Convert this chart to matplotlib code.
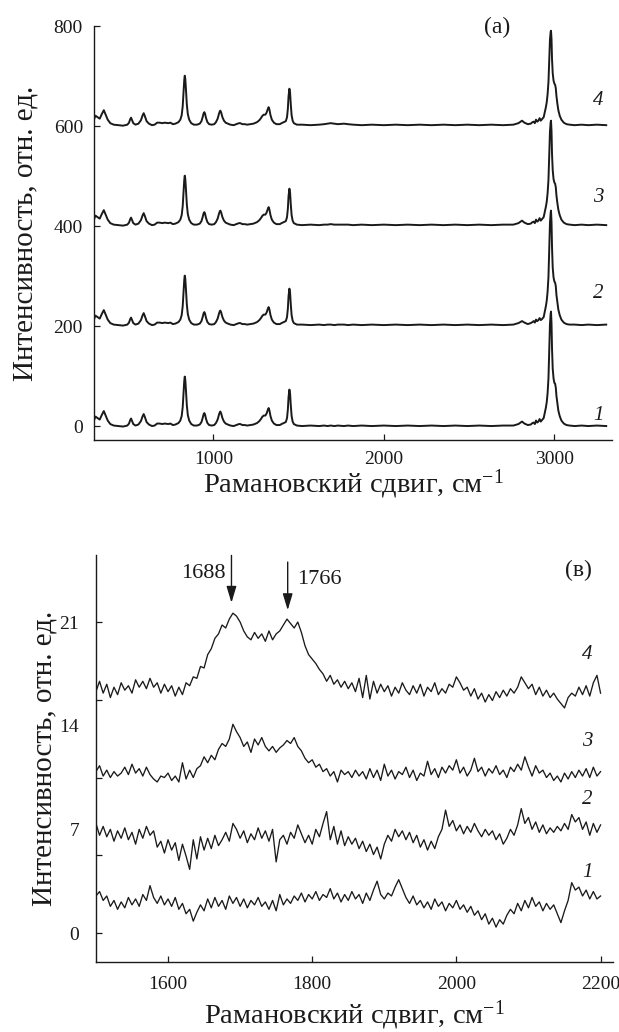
import numpy as np
import matplotlib.pyplot as plt

plt.rcParams['font.family'] = ['Liberation Serif', 'DejaVu Serif']
plt.rcParams['mathtext.fontset'] = 'custom'
plt.rcParams['mathtext.rm'] = 'Liberation Serif'
plt.rcParams['mathtext.it'] = 'Liberation Serif:italic'

INK = '#1a1a1a'

# --- (а) full spectra, 300-3300 cm-1 ---
# fingerprint region, same for all four samples
fp_shift = [300, 308, 320, 333, 345, 357, 368, 380, 395, 415,
            440, 470, 495, 505, 512, 517, 523, 530, 543, 560,
            575, 584, 591, 598, 608, 622, 640, 655, 670, 685,
            700, 715, 735, 748, 762, 777, 795, 806, 814, 820,
            825, 829, 832, 835, 839, 844, 850, 858, 870, 885,
            904, 920, 930, 937, 943, 947, 951, 957, 965, 975,
            990, 1005, 1015, 1025, 1033, 1038, 1041, 1046, 1053, 1062,
            1072, 1085, 1100, 1119, 1135, 1150, 1158, 1170, 1185, 1198,
            1215, 1235, 1256, 1270, 1281, 1286, 1295, 1305, 1312, 1318,
            1324, 1329, 1335, 1343, 1355, 1370, 1390, 1400, 1412, 1425,
            1432, 1437, 1441, 1446, 1450, 1454, 1459, 1465, 1472, 1490]
fp_int = [12, 19, 16, 13, 22, 30, 21, 11, 4, 1,
          0, -1, 1, 5, 12, 15, 10, 4, 1, 3,
          10, 19, 24, 18, 8, 3, 0, 1, 5, 5,
          4, 5, 4, 5, 2, 3, 6, 11, 20, 38,
          65, 90, 99, 93, 72, 42, 22, 11, 4, 1,
          1, 3, 8, 16, 24, 26, 23, 14, 6, 2,
          1, 2, 6, 13, 23, 28, 29, 25, 16, 9,
          5, 3, 1, 0, 2, 4, 4, 2, 2, 1,
          2, 3, 6, 10, 15, 18, 21, 21, 25, 31,
          36, 31, 20, 11, 5, 2, 2, 4, 6, 8,
          16, 33, 58, 73, 65, 42, 20, 9, 4, 1]

# C=O and C-H regions, per sample
hi_shift = [1520, 1570, 1620, 1650, 1670, 1688, 1710, 1730, 1766, 1790,
            1820, 1870, 1930, 2000, 2070, 2140, 2210, 2280, 2350, 2420,
            2490, 2560, 2630, 2700, 2760, 2790, 2811, 2825, 2845, 2862,
            2872, 2879, 2886, 2893, 2900, 2907, 2914, 2921, 2928, 2938,
            2945, 2951, 2956, 2961, 2966, 2971, 2975, 2979, 2981, 2984,
            2987, 2991, 2996, 3001, 3005, 3009, 3013, 3018, 3024, 3032,
            3042, 3056, 3072, 3090, 3120, 3160, 3200, 3250, 3305]
hi_int_1 = [0, 1, 0, 1, 0, 1, 0, 1, 0, 1,
            0, 1, 0, 1, 0, 1, 0, 1, 0, 1,
            0, 1, 0, 1, 1, 4, 9, 5, 2, 3,
            6, 7, 4, 11, 7, 9, 14, 9, 12, 16,
            27, 37, 48, 66, 95, 155, 205, 225, 229, 205,
            155, 115, 95, 86, 85, 77, 60, 46, 31, 20,
            11, 5, 2, 1, 0, 1, 0, 1, 0]
hi_int_2 = [1, 0, 1, 0, 1, 1, 0, 1, 1, 0,
            1, 0, 1, 0, 1, 0, 1, 0, 1, 0,
            1, 0, 1, 0, 1, 4, 8, 5, 2, 4,
            6, 8, 5, 11, 8, 10, 14, 10, 12, 16,
            28, 38, 49, 67, 96, 156, 205, 225, 229, 206,
            156, 115, 95, 87, 85, 78, 60, 46, 31, 20,
            11, 5, 2, 1, 1, 0, 1, 0, 1]
hi_int_3 = [0, 1, 0, 1, 1, 2, 1, 1, 1, 1,
            0, 1, 0, 1, 0, 1, 0, 1, 0, 1,
            0, 1, 0, 1, 1, 4, 9, 5, 2, 3,
            6, 7, 4, 11, 7, 9, 14, 9, 12, 16,
            27, 37, 47, 64, 90, 142, 188, 206, 209, 188,
            142, 110, 92, 85, 83, 76, 59, 45, 31, 20,
            11, 5, 2, 1, 0, 1, 0, 1, 0]
hi_int_4 = [1, 0, 1, 2, 3, 4, 3, 2, 3, 2,
            1, 0, 1, 0, 1, 0, 1, 0, 1, 0,
            1, 0, 1, 0, 1, 4, 9, 5, 2, 3,
            6, 7, 4, 11, 7, 9, 14, 9, 12, 16,
            27, 36, 46, 62, 86, 132, 172, 187, 189, 172,
            132, 104, 89, 83, 81, 74, 58, 44, 30, 19,
            11, 5, 2, 1, 0, 1, 0, 1, 0]
hi_ints = [hi_int_1, hi_int_2, hi_int_3, hi_int_4]
offsets_a = [0, 202, 402, 602]

# --- (в) 1500-2200 cm-1, step 5 cm-1 ---
shift_b = np.arange(1500, 2201, 5)
int_b_1 = [2.5, 2.8, 2.2, 2.5, 1.8, 2.2, 1.6, 2.1, 1.7, 2.4,
           1.9, 2.3, 1.8, 2.6, 2.2, 3.2, 2.4, 2.0, 2.5, 1.9,
           2.3, 1.8, 2.4, 1.6, 2.0, 1.3, 1.6, 0.8, 1.4, 1.9,
           1.5, 2.3, 1.7, 2.4, 1.8, 2.2, 1.6, 2.5, 2.0, 2.4,
           1.8, 2.3, 1.7, 2.2, 1.9, 2.4, 1.8, 2.1, 1.6, 2.2,
           1.5, 2.6, 1.9, 2.3, 2.0, 2.5, 2.2, 2.7, 2.1, 2.6,
           2.3, 2.8, 2.2, 2.6, 2.4, 3.0, 2.3, 2.7, 2.1, 2.6,
           2.2, 2.8, 2.3, 2.6, 2.0, 2.7, 2.2, 2.9, 3.5, 2.6,
           2.3, 2.7, 2.5, 3.1, 3.6, 3.0, 2.4, 2.0, 2.5, 1.9,
           2.2, 1.7, 2.1, 1.6, 2.3, 1.8, 2.1, 1.5, 2.0, 1.7,
           2.2, 1.6, 1.9, 1.4, 1.8, 1.2, 1.5, 0.9, 1.3, 0.6,
           1.0, 0.4, 0.9, 0.6, 1.2, 1.6, 1.3, 2.0, 1.5, 2.2,
           1.7, 2.4, 1.8, 2.1, 1.5, 2.0, 1.6, 1.9, 1.3, 0.7,
           1.5, 2.2, 3.4, 2.9, 3.1, 2.5, 2.9, 2.3, 2.8, 2.3,
           2.5]
int_b_2 = [7.4, 6.6, 7.2, 6.5, 7.0, 6.2, 6.9, 6.4, 7.1, 6.3,
           6.8, 6.0, 7.0, 6.4, 7.2, 6.6, 6.9, 5.8, 6.2, 5.4,
           6.3, 5.6, 6.1, 4.9, 6.0, 5.2, 4.3, 6.3, 5.0, 6.5,
           5.6, 6.4, 5.7, 6.6, 5.9, 6.3, 6.8, 6.2, 7.4, 7.0,
           6.4, 6.9, 6.1, 6.7, 6.3, 7.1, 6.4, 6.9, 6.2, 7.0,
           4.8, 6.3, 6.6, 6.0, 6.8, 6.4, 7.3, 6.7, 6.1, 6.6,
           6.0, 7.0, 6.5, 7.4, 8.2, 6.3, 7.2, 6.0, 6.9, 5.9,
           6.5, 6.0, 6.4, 5.7, 6.2, 5.5, 6.0, 5.3, 5.8, 5.0,
           6.0, 6.6, 6.2, 7.0, 6.5, 6.9, 6.3, 6.8, 6.1, 6.6,
           5.8, 6.3, 5.6, 6.2, 5.7, 6.5, 7.0, 8.3, 7.2, 7.6,
           6.9, 7.3, 6.7, 7.2, 6.8, 7.4, 6.9, 6.5, 7.0, 6.6,
           6.9, 6.3, 6.7, 6.0, 6.4, 7.0, 6.6, 7.3, 8.4, 7.4,
           7.8, 7.0, 7.5, 6.8, 7.3, 6.7, 7.1, 6.8, 7.2, 6.9,
           7.4, 7.0, 8.0, 7.5, 7.8, 7.0, 7.5, 6.6, 7.4, 6.8,
           7.3]
int_b_3 = [10.9, 11.3, 10.6, 11.0, 10.5, 10.9, 10.6, 10.8, 11.2, 10.7,
           11.4, 10.8, 11.1, 10.6, 11.2, 10.7, 10.4, 10.2, 10.6, 10.5,
           10.8, 10.3, 10.6, 10.2, 11.5, 10.4, 11.0, 10.5, 11.1, 11.3,
           11.9, 11.5, 12.0, 11.7, 12.4, 12.8, 12.6, 13.1, 14.1, 13.6,
           13.2, 12.6, 12.9, 12.2, 13.1, 12.7, 13.2, 12.6, 12.3, 12.6,
           12.2, 12.5, 12.7, 13.0, 12.8, 13.2, 12.6, 12.3, 11.8, 11.5,
           11.7, 11.2, 11.4, 10.9, 11.1, 10.6, 10.9, 10.2, 11.0, 10.7,
           10.9, 10.5, 11.0, 10.6, 10.9, 10.4, 11.1, 10.5, 11.0, 10.3,
           11.4, 10.6, 11.0, 10.4, 10.9, 10.7, 11.2, 10.5, 11.0, 10.3,
           10.8, 10.6, 11.6, 10.7, 11.1, 10.5, 11.2, 10.8, 11.3, 11.0,
           11.7, 10.8, 11.2, 10.6, 11.0, 11.8, 10.9, 11.2, 10.6, 11.1,
           10.8, 11.3, 10.7, 11.0, 10.5, 11.2, 10.9, 11.4, 11.0, 11.9,
           11.2, 10.6, 11.3, 10.8, 11.0, 10.5, 10.8, 10.3, 10.6, 10.2,
           10.8, 10.4, 10.9, 10.5, 11.0, 10.6, 11.1, 10.5, 11.2, 10.6,
           10.9]
int_b_4 = [16.3, 17.0, 16.2, 16.8, 15.9, 16.6, 16.1, 16.9, 16.4, 16.7,
           16.2, 17.1, 16.6, 17.0, 16.5, 17.2, 16.6, 16.9, 16.2, 16.8,
           16.3, 16.7, 16.0, 16.6, 16.1, 16.9, 16.7, 17.3, 17.2, 18.0,
           17.9, 18.8, 19.2, 19.9, 20.2, 20.8, 20.6, 21.2, 21.6, 21.4,
           21.0, 20.4, 20.0, 19.8, 20.3, 19.9, 20.2, 19.7, 20.4, 19.8,
           20.2, 20.4, 20.8, 21.2, 20.9, 20.6, 21.0, 20.3, 19.4, 18.8,
           18.5, 18.2, 17.8, 17.5, 17.0, 17.4, 16.8, 17.1, 16.6, 17.0,
           16.5, 16.9, 16.3, 17.2, 15.9, 17.4, 15.8, 17.0, 16.2, 16.8,
           16.3, 16.7, 16.0, 16.6, 16.2, 16.9, 16.4, 16.1, 16.7, 16.2,
           16.8, 16.0, 16.6, 16.3, 16.9, 16.1, 16.5, 16.2, 16.8, 16.6,
           17.3, 16.9, 16.4, 16.6, 16.0, 16.5, 15.8, 16.2, 15.6, 16.1,
           15.7, 16.3, 15.9, 16.4, 16.0, 16.5, 16.2, 16.6, 17.3, 16.9,
           16.5, 16.8, 16.1, 16.6, 16.0, 16.4, 15.9, 16.2, 15.8, 15.5,
           15.2, 15.9, 16.2, 16.0, 16.6, 16.1, 16.7, 16.0, 16.9, 17.4,
           16.2]
ints_b = [int_b_1, int_b_2, int_b_3, int_b_4]

curve_labels = ['1', '2', '3', '4']
label_y_a = [22, 266, 458, 652]
label_y_b = [4.1, 9.0, 12.9, 18.8]
peaks_b = [1688, 1766]

fig = plt.figure(figsize=(6.19, 10.32), dpi=100)
ax_a = fig.add_axes([0.152, 0.5736, 0.837, 0.401])
ax_b = fig.add_axes([0.155, 0.0678, 0.835, 0.394])

for ax in (ax_a, ax_b):
    for side in ('top', 'right'):
        ax.spines[side].set_visible(False)
    for side in ('left', 'bottom'):
        ax.spines[side].set_linewidth(1.0)
        ax.spines[side].set_color(INK)
    ax.tick_params(direction='in', length=4, width=0.9, colors=INK,
                   labelsize=14, pad=8)
    ax.set_xlabel('Рамановский сдвиг, см$^{-1}$', fontsize=20.5, color=INK,
                  va='baseline')
    ax.set_ylabel('Интенсивность, отн. ед.', fontsize=21, color=INK)

# (а)
for off, hi in zip(offsets_a, hi_ints):
    x = np.concatenate([fp_shift, hi_shift])
    y = np.concatenate([fp_int, hi]) + off
    ax_a.plot(x, y, color=INK, lw=1.4)
for lab, ly in zip(curve_labels, label_y_a):
    ax_a.text(3258, ly, lab, fontsize=15, style='italic', ha='center',
              va='center', color=INK)
ax_a.set_xlim(300, 3340)
ax_a.set_ylim(-28, 800)
ax_a.set_xticks([1000, 2000, 3000])
ax_a.set_yticks([0, 200, 400, 600, 800])
ax_a.text(2666, 798, '(а)', fontsize=17, ha='center', va='center', color=INK)
ax_a.yaxis.set_label_coords(-0.108, 0.5)
ax_a.xaxis.set_label_coords(0.5, -0.126)

# (в)
for yb in ints_b:
    ax_b.plot(shift_b, yb, color=INK, lw=0.95)
for lab, ly in zip(curve_labels, label_y_b):
    ax_b.text(2182, ly, lab, fontsize=15, style='italic', ha='center',
              va='center', color=INK)
ax_b.set_xlim(1500, 2217)
ax_b.set_ylim(-1.96, 25.5)
ax_b.set_xticks([1600, 1800, 2000, 2200])
# tick marks every 5.25, labels every 7
ax_b.yaxis.remove_overlapping_locs = False
ax_b.set_yticks([0, 5.25, 10.5, 15.75, 21], labels=[])
ax_b.set_yticks([0, 7, 14, 21], labels=['0', '7', '14', '21'], minor=True)
ax_b.tick_params(axis='y', which='minor', length=0, pad=12, labelsize=14,
                 colors=INK)
ax_b.tick_params(axis='x', pad=10)

arrow = dict(arrowstyle='-|>,head_length=0.5,head_width=0.15', lw=1,
             color=INK, mutation_scale=20, shrinkA=0, shrinkB=0)
ax_b.annotate('', xy=(peaks_b[0], 22.3), xytext=(peaks_b[0], 25.5),
              arrowprops=arrow, annotation_clip=False)
ax_b.annotate('', xy=(peaks_b[1], 21.8), xytext=(peaks_b[1], 25.05),
              arrowprops=arrow, annotation_clip=False)
ax_b.text(peaks_b[0] - 8, 24.3, str(peaks_b[0]), fontsize=16, ha='right',
          va='center', color=INK)
ax_b.text(peaks_b[1] + 13, 23.85, str(peaks_b[1]), fontsize=16, ha='left',
          va='center', color=INK)
ax_b.text(2169, 24.5, '(в)', fontsize=17, ha='center', va='center', color=INK)
ax_b.yaxis.set_label_coords(-0.075, 0.5)
ax_b.xaxis.set_label_coords(0.5, -0.150)

fig.savefig('out.png', dpi=100, facecolor='white')
